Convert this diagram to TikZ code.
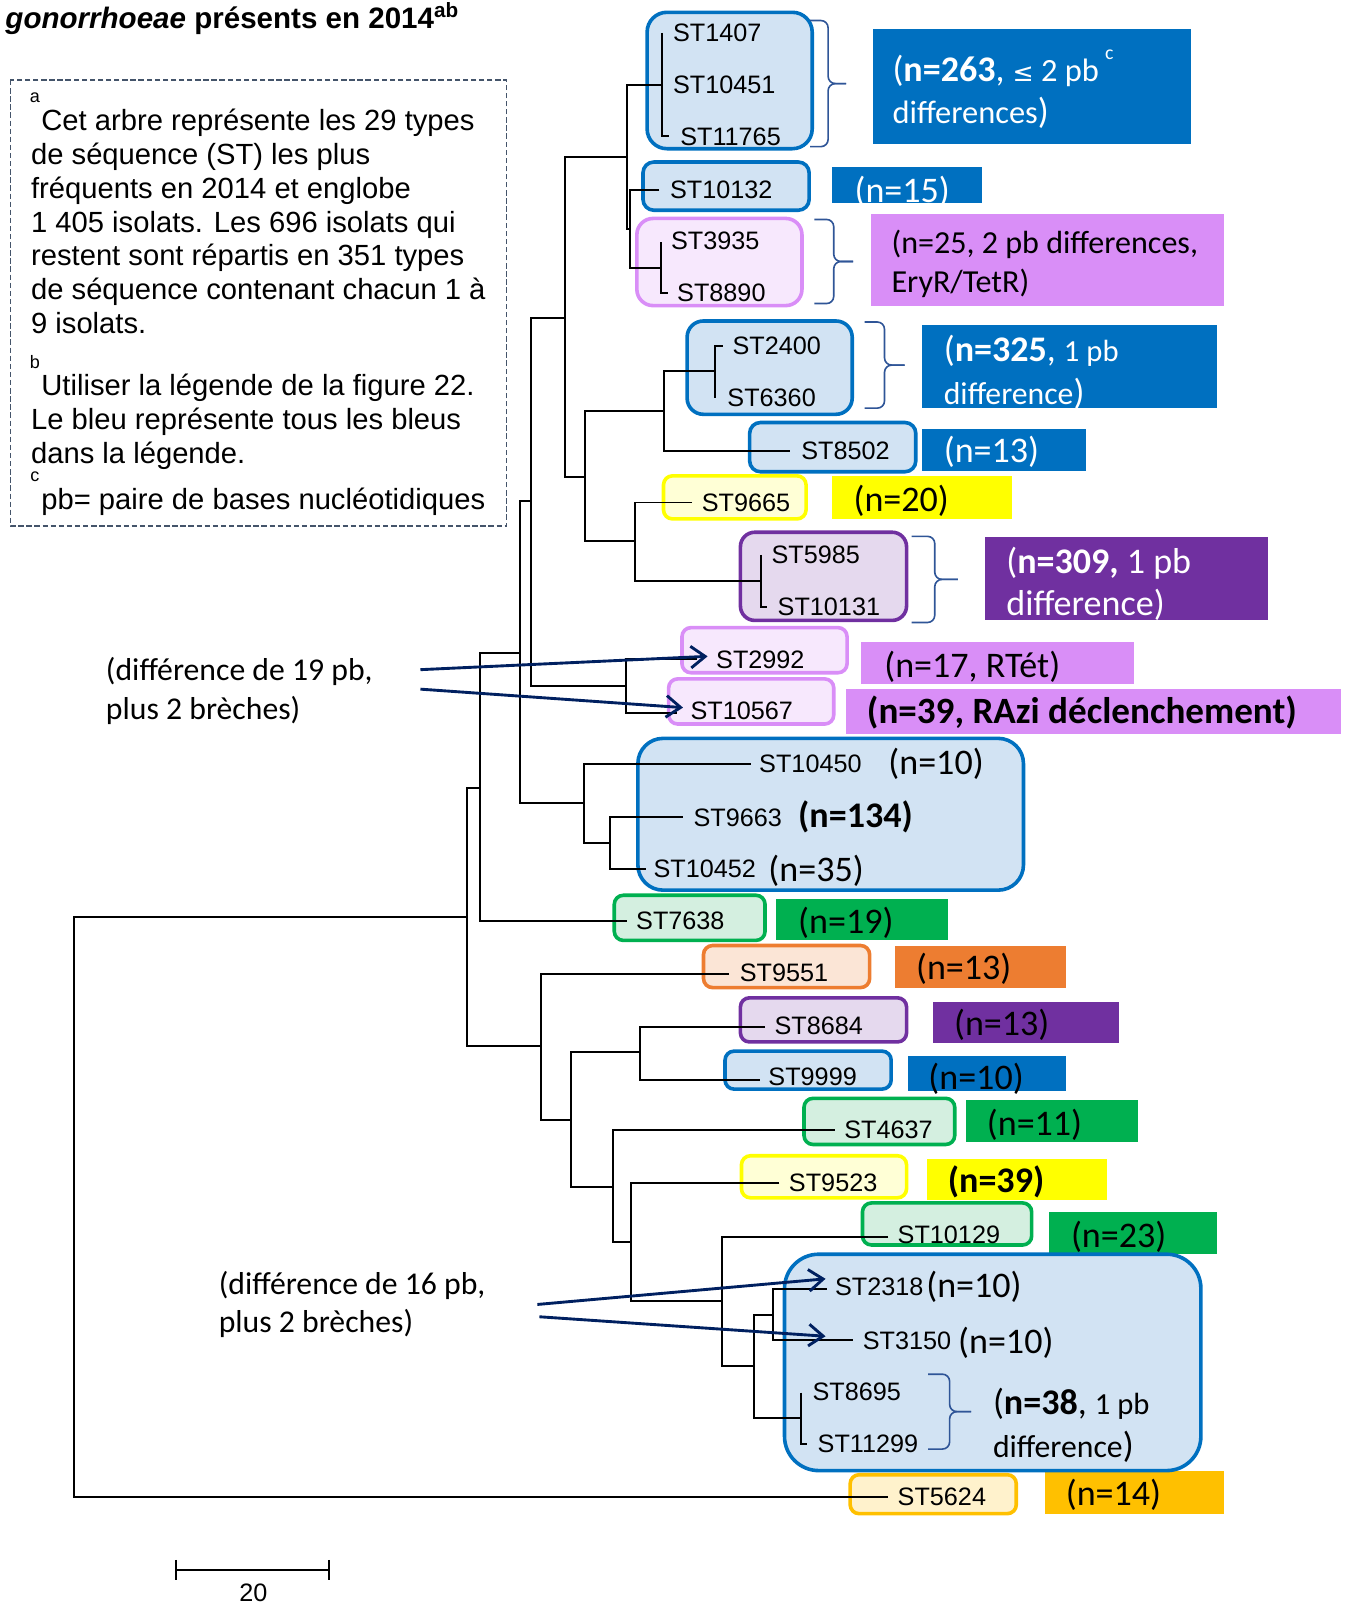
\documentclass[tikz,border=0pt]{standalone}
\usepackage{fontspec}
\setmainfont{Liberation Sans}
\newfontfamily\calib{Carlito}
\newfontfamily\symf{DejaVu Sans}
\usetikzlibrary{arrows.meta}

\definecolor{cblue}{HTML}{0070C0}
\definecolor{lblue}{HTML}{D2E3F3}
\definecolor{cpink}{HTML}{D98EF7}
\definecolor{lpink}{HTML}{F7E8FD}
\definecolor{cpurple}{HTML}{7030A0}
\definecolor{lpurple}{HTML}{E5D9EE}
\definecolor{cyel}{HTML}{FFFF00}
\definecolor{lyel}{HTML}{FFFFD6}
\definecolor{cgreen}{HTML}{00B050}
\definecolor{lgreen}{HTML}{D4EFE0}
\definecolor{corange}{HTML}{ED7D31}
\definecolor{lorange}{HTML}{FBE5D6}
\definecolor{cgold}{HTML}{FFC000}
\definecolor{lgold}{HTML}{FFF2CC}
\definecolor{navy}{HTML}{002060}
\definecolor{cbrace}{HTML}{2F5597}
\definecolor{dashc}{HTML}{44546A}

% right brace: x, top, bottom, width
\newcommand{\pbbrace}[4]{%
  \draw[brc] (#1,#2) -- ({#1+0.5*#4},#2) -- ({#1+0.5*#4},{0.5*(#2+#3)}) -- ({#1+#4},{0.5*(#2+#3)});
  \draw[brc] ({#1+#4},{0.5*(#2+#3)}) -- ({#1+0.5*#4},{0.5*(#2+#3)}) -- ({#1+0.5*#4},#3) -- (#1,#3);}

\begin{document}
\begin{tikzpicture}[
    x=0.02cm, y=-0.02cm,
    tree/.style={line width=1.1pt, black},
    stbox/.style={line width=2pt},
    st/.style={anchor=west, inner sep=0pt, font=\fontsize{14}{16}\selectfont},
    cnt/.style={anchor=west, inner sep=0pt, align=left, font=\calib\fontsize{20}{23.5}\selectfont},
    ann/.style={anchor=west, inner sep=0pt, align=left, font=\calib\fontsize{17.6}{21.6}\selectfont},
    note/.style={anchor=west, inner sep=0pt, align=left, font=\fontsize{16.2}{18.8}\selectfont},
    sup/.style={inner sep=0pt, font=\fontsize{10}{12}\selectfont},
    brc/.style={draw=cbrace, line width=0.9pt, rounded corners=4pt},
    arr/.style={draw=navy, line width=1.6pt, -{Straight Barb[length=8pt, width=12pt]}}
]
\useasboundingbox (0,0) rectangle (1315,1568);

% title and note
\node[anchor=base west, inner sep=0pt, font=\bfseries\fontsize{16.4}{18}\selectfont] (title) at (5,28)
    {\textit{gonorrhoeae} présents en 2014\textsuperscript{ab}};
\draw[dashc, line width=0.8pt, dash pattern=on 3pt off 1.5pt] (10,78) rectangle (494,513);
\node[sup] (supa) at (34,95) {a};
\node[note] (notea) at (30,216) {\hspace{5.7pt}Cet arbre représente les 29 types\\de séquence (ST) les plus\\fréquents en 2014 et englobe\\1 405 isolats. Les 696 isolats qui\\restent sont répartis en 351 types\\de séquence contenant chacun 1 à\\9 isolats.};
\node[sup] (supb) at (34,353) {b};
\node[note] (noteb) at (30,411) {\hspace{5.7pt}Utiliser la légende de la figure 22.\\Le bleu représente tous les bleus\\dans la légende.};
\node[sup] (supc) at (34,465) {c};
\node[note] (notec) at (40,489) {pb= paire de bases nucléotidiques};

% count boxes
\foreach \xa/\ya/\xb/\yb/\col in {851/28/1161/140/cblue, 811/163/958/198/cblue, 849/209/1194/298/cpink,
    899/317/1187/398/cblue, 899/418/1059/459/cblue, 811/464/987/506/cyel,
    960/524/1236/605/cpurple, 840/626/1106/667/cpink, 825/672/1308/716/cpink,
    757/877/924/917/cgreen, 873/922/1039/963/corange, 910/977/1091/1017/cpurple,
    885/1030/1039/1064/cblue, 942/1073/1110/1114/cgreen, 904/1130/1079/1170/cyel,
    1023/1182/1187/1223/cgreen, 1019/1434/1194/1476/cgold}
    \fill[\col] (\xa,\ya) rectangle (\xb,\yb);

% ST boxes
\foreach \xa/\ya/\xb/\yb/\bc/\fc/\rad in {631/12/792/145/cblue/lblue/11, 627/158/789/205/cblue/lblue/6,
    621/213/782/298/cpink/lpink/9, 670/313/831/404/cblue/lblue/9, 731/412/893/460/cblue/lblue/6,
    647/464/786/506/cyel/lyel/5, 722/519/884/605/cpurple/lpurple/8, 665/612/826/656/cpink/lpink/5,
    652/662/813/706/cpink/lpink/5, 622/720/998/868/cblue/lblue/14, 599/873/746/917/cgreen/lgreen/5,
    686/922/848/963/corange/lorange/5, 722/973/884/1016/cpurple/lpurple/5, 707/1025/869/1062/cblue/lblue/5,
    784/1071/931/1116/cgreen/lgreen/5, 723/1127/884/1168/cyel/lyel/5, 841/1173/1006/1214/cgreen/lgreen/5,
    765/1223/1171/1434/cblue/lblue/19, 829/1438/991/1476/cgold/lgold/5}
    \draw[stbox, draw=\bc, fill=\fc, rounded corners=\rad pt] (\xa,\ya) rectangle (\xb,\yb);

% tree
\draw[tree] (455,894) -- (72,894) -- (72,1460) -- (866,1460);
\draw[tree] (468,768) -- (455,768) -- (455,1020) -- (528,1020);
\draw[tree] (507,637) -- (468,637) -- (468,898) -- (611,898);
\draw[tree] (518,489) -- (507,489) -- (507,783) -- (569,783);
\draw[tree] (551,310) -- (518,310) -- (518,669) -- (610,669);
\draw[tree] (611,153) -- (551,153) -- (551,465) -- (570,465);
\draw[tree] (646,83) -- (611,83) -- (611,223) -- (614,223);
\draw[tree] (643,185) -- (614,185) -- (614,261) -- (645,261);
\draw[tree] (646,32) -- (646,133) -- (652,133);
\draw[tree] (645,236) -- (645,286) -- (651,286);
\draw[tree] (647,401) -- (570,401) -- (570,528) -- (619,528);
\draw[tree] (697,362) -- (647,362) -- (647,440) -- (770,440);
\draw[tree] (705,337) -- (697,337) -- (697,388);
\draw[tree] (675,490) -- (619,490) -- (619,567) -- (742,567);
\draw[tree] (742,541) -- (742,592) -- (748,592);
\draw[tree] (680,643) -- (610,643) -- (610,695) -- (660,695);
\draw[tree] (732,745) -- (569,745) -- (569,822) -- (595,822);
\draw[tree] (666,797) -- (595,797) -- (595,847) -- (630,847);
\draw[tree] (711,950) -- (528,950) -- (528,1092) -- (557,1092);
\draw[tree] (624,1026) -- (557,1026) -- (557,1157) -- (598,1157);
\draw[tree] (746,1001) -- (624,1001) -- (624,1053) -- (741,1053);
\draw[tree] (814,1102) -- (598,1102) -- (598,1211) -- (615,1211);
\draw[tree] (760,1154) -- (615,1154) -- (615,1269) -- (704,1269);
\draw[tree] (866,1206) -- (704,1206) -- (704,1332) -- (735,1332);
\draw[tree] (754,1282) -- (735,1282) -- (735,1383) -- (781,1383);
\draw[tree] (806,1257) -- (754,1257) -- (754,1307) -- (832,1307);
\draw[tree] (781,1358) -- (781,1408) -- (787,1408);

% leaves
\foreach \nm/\x/\y/\lbl in {st1407/656/32/ST1407, st10451/656/83/ST10451, st11765/663/133/ST11765,
    st10132/653/185/ST10132, st3935/654/235/ST3935, st8890/660/286/ST8890,
    st2400/714/337/ST2400, st6360/709/388/ST6360, st8502/781/440/ST8502,
    st9665/684/490/ST9665, st5985/752/541/ST5985, st10131/758/592/ST10131,
    st2992/698/643/ST2992, st10567/673/693/ST10567,
    st10450/740/745/ST10450, st9663/676/797/ST9663, st10452/637/847/ST10452,
    st7638/620/898/ST7638, st9551/721/949/ST9551, st8684/755/1000/ST8684,
    st9999/749/1050/ST9999, st4637/823/1102/ST4637, st9523/769/1153/ST9523,
    st10129/875/1204/ST10129, st2318/814/1255/ST2318, st3150/841/1307/ST3150,
    st8695/792/1357/ST8695, st11299/797/1408/ST11299, st5624/875/1460/ST5624}
    \node[st] (\nm) at (\x,\y) {\lbl};

% braces
\pbbrace{790}{20}{143}{35}
\pbbrace{794}{214}{296}{38}
\pbbrace{843}{314}{398}{39}
\pbbrace{889}{523}{607}{45}
\pbbrace{905}{1340}{1413}{42}

% counts
\node[cnt, text=white] (n263) at (870,87) {(\textbf{n=263}, {\fontsize{18}{20}\selectfont{\symf\fontsize{14}{20}\selectfont ≤} 2 pb}\,\raisebox{1.3ex}{\fontsize{11}{11}\selectfont c}\\{\fontsize{18}{20}\selectfont differences})};
\node[cnt, text=white] (n15) at (833,187) {(n=15)};
\node[cnt, font=\calib\fontsize{17.8}{21.5}\selectfont] (n25) at (869,257) {(n=25, 2 pb differences,\\EryR/TetR)};
\node[cnt, text=white] (n325) at (920,363) {(\textbf{n=325}, {\fontsize{17}{20}\selectfont 1 pb}\\{\fontsize{17.6}{20}\selectfont difference})};
\node[cnt, text=white] (n13a) at (920,441) {(n=13)};
\node[cnt] (n20) at (832,488) {(n=20)};
\node[cnt, text=white] (n309) at (981,569) {(\textbf{n=309,} 1 pb\\difference)};
\node[cnt] (n17) at (862,650) {(n=17, RTét)};
\node[cnt, font=\calib\fontsize{20.6}{23.5}\selectfont] (n39a) at (845,695) {\textbf{(n=39, RAzi déclenchement)}};
\node[cnt] (n10a) at (866,745) {(n=10)};
\node[cnt] (n134) at (778,797) {\textbf{(n=134)}};
\node[cnt] (n35) at (749,849) {(n=35)};
\node[cnt] (n19) at (778,900) {(n=19)};
\node[cnt] (n13b) at (893,945) {(n=13)};
\node[cnt] (n13c) at (930,999) {(n=13)};
\node[cnt] (n10b) at (905,1052) {(n=10)};
\node[cnt] (n11) at (962,1097) {(n=11)};
\node[cnt] (n39b) at (924,1152) {\textbf{(n=39)}};
\node[cnt] (n23) at (1044,1206) {(n=23)};
\node[cnt] (n10c) at (903,1255) {(n=10)};
\node[cnt] (n10d) at (934,1309) {(n=10)};
\node[cnt] (n38) at (968,1390) {(\textbf{n=38}, {\fontsize{17}{20}\selectfont 1 pb}\\{\fontsize{17.6}{20}\selectfont difference})};
\node[cnt] (n14) at (1039,1458) {(n=14)};

% annotations
\node[ann] (ann19) at (103,674) {(différence de 19 pb,\\plus 2 brèches)};
\node[ann] (ann16) at (213,1272) {(différence de 16 pb,\\plus 2 brèches)};
\coordinate (a19a) at (410,653);
\coordinate (a19b) at (410,672);
\coordinate (a16a) at (524,1272);
\coordinate (a16b) at (526,1284);
\coordinate (tip2992) at (690,640);
\coordinate (tip10567) at (666,690);
\coordinate (tip2318) at (805,1247);
\coordinate (tip3150) at (805,1303);
\draw[arr] (a19a) -- (tip2992);
\draw[arr] (a19b) -- (tip10567);
\draw[arr] (a16a) -- (tip2318);
\draw[arr] (a16b) -- (tip3150);

% scale
\draw[tree] (172,1521) -- (172,1541) (172,1531) -- (321,1531) (321,1521) -- (321,1541);
\node[inner sep=0pt, font=\fontsize{14}{16}\selectfont] (scale) at (247,1553) {20};
\end{tikzpicture}
\end{document}
